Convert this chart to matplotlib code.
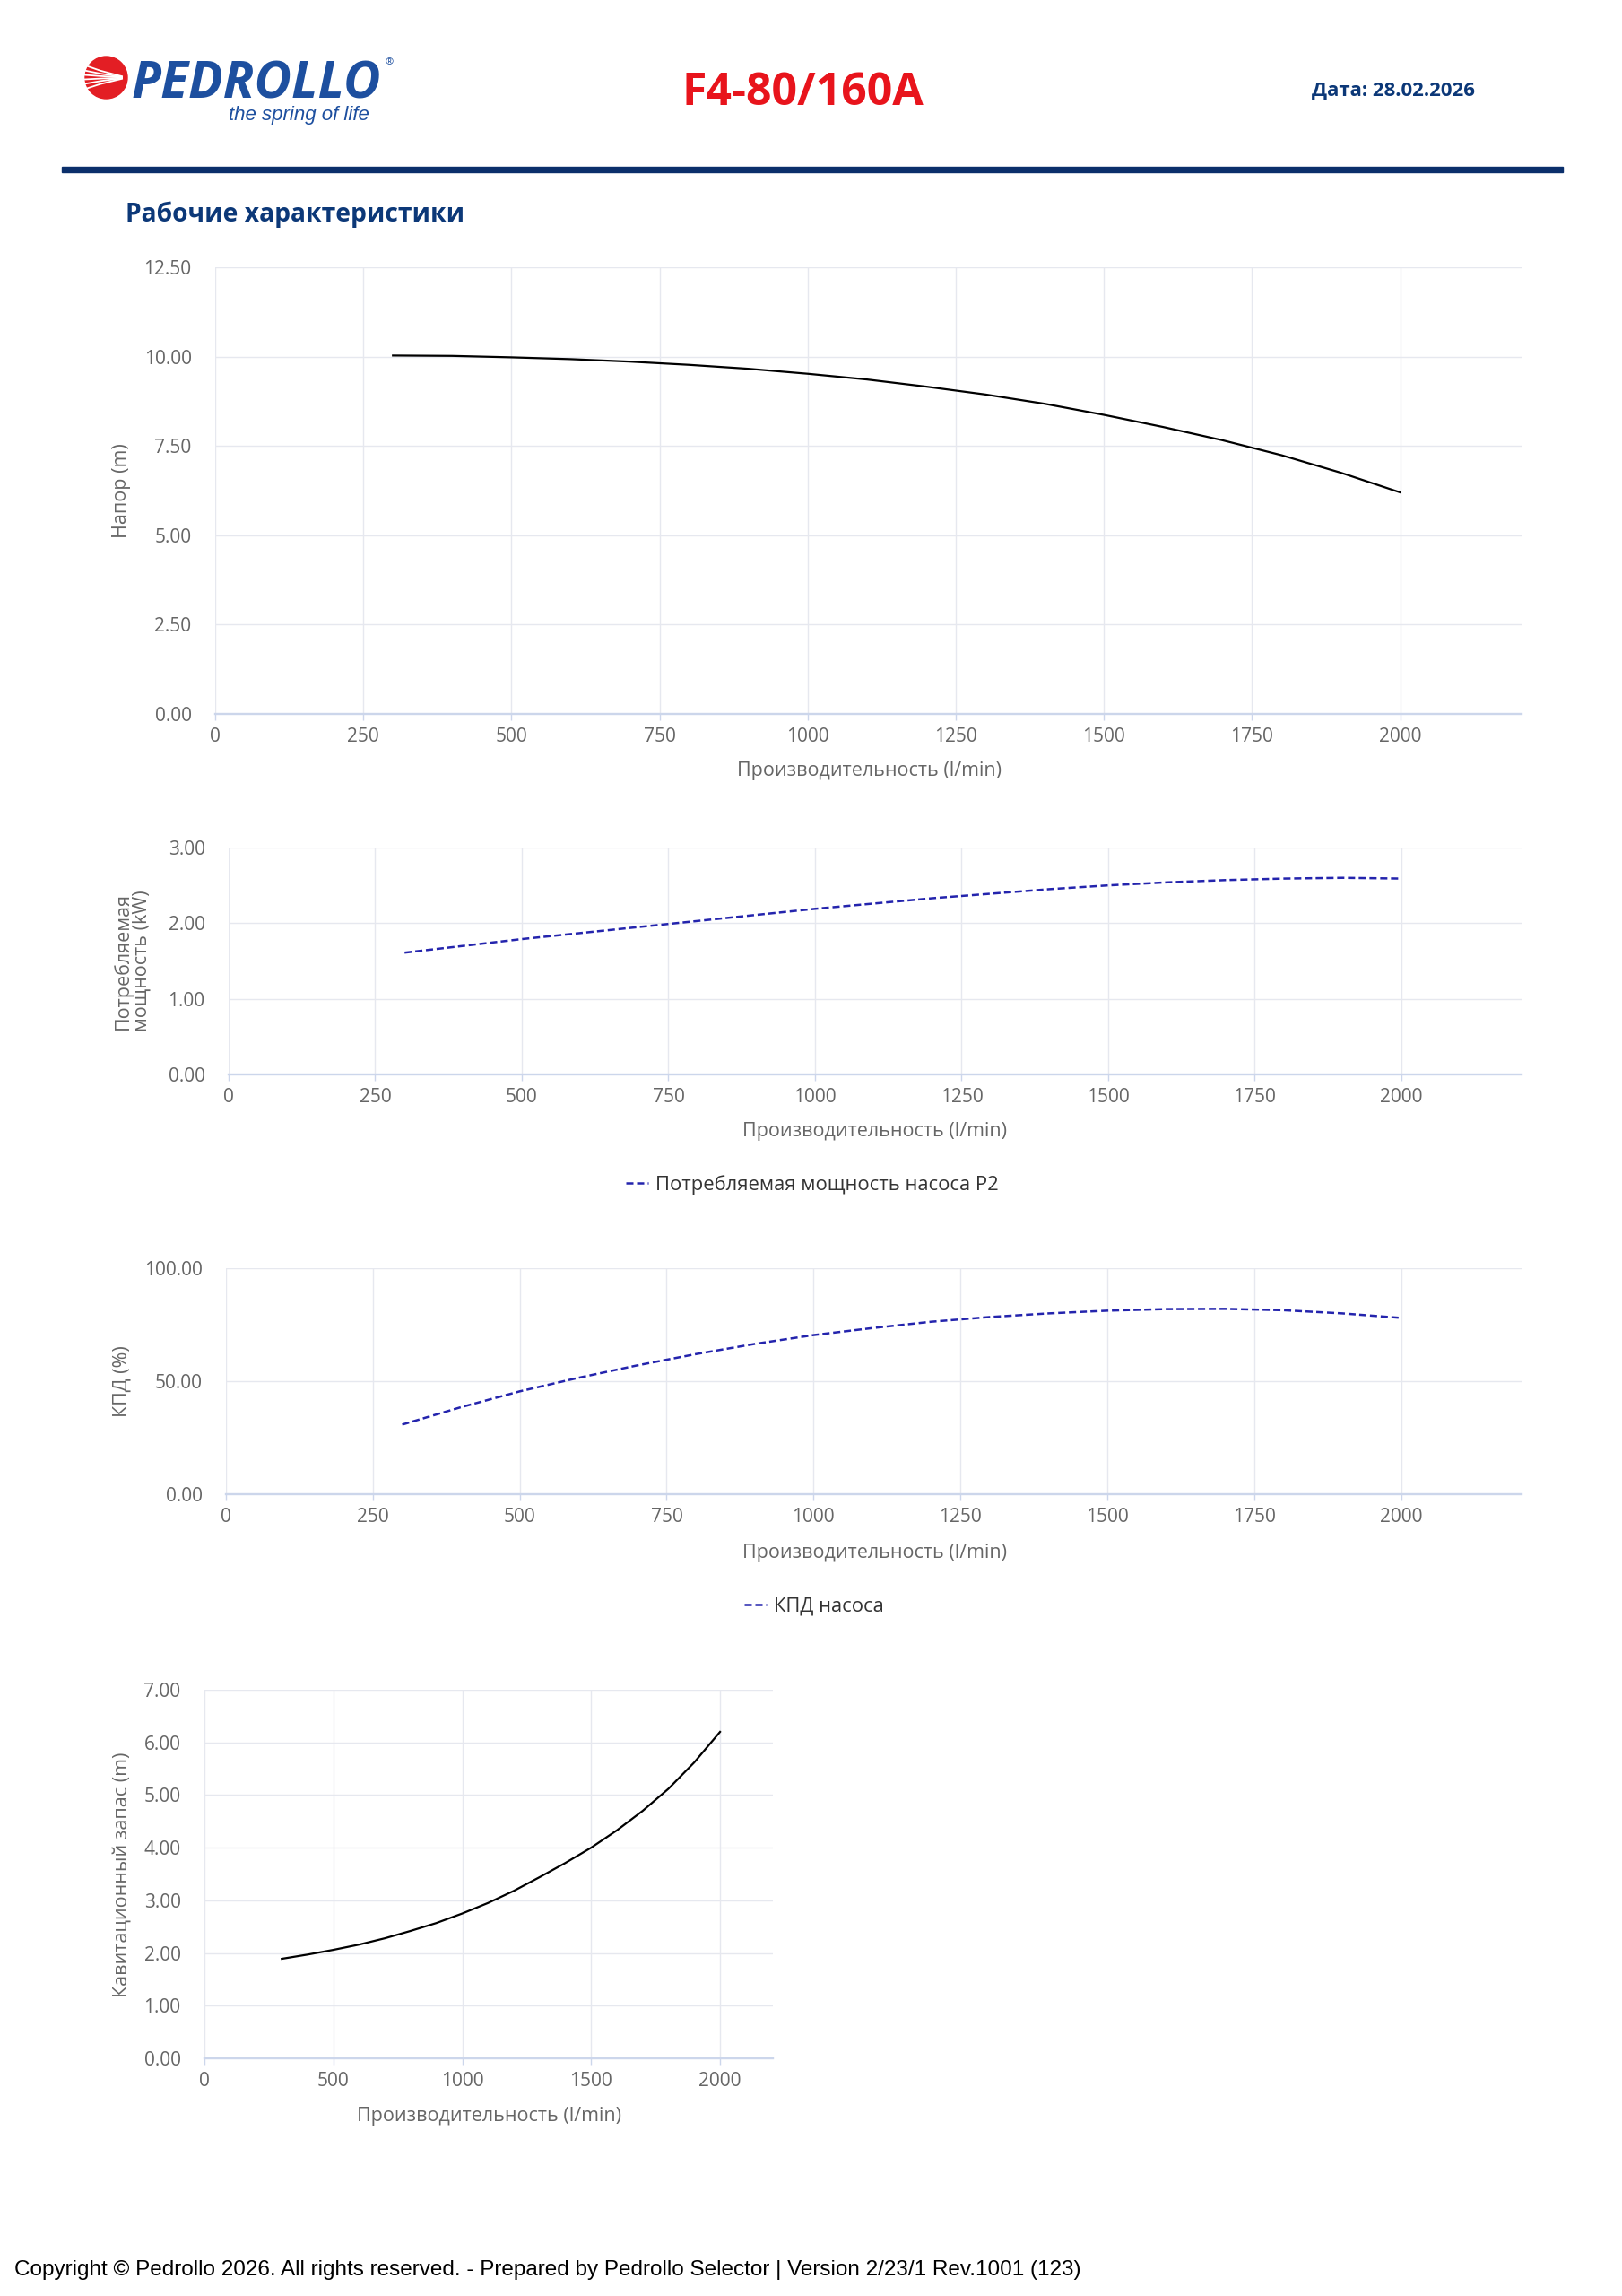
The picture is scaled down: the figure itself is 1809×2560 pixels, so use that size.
import matplotlib
matplotlib.use("Agg")
import matplotlib.pyplot as plt
from matplotlib.patches import Circle, Rectangle
from matplotlib.lines import Line2D

plt.rcParams['font.family'] = ['Open Sans', 'DejaVu Sans']

# pump curves
flow = [300, 400, 500, 600, 700, 800, 900, 1000, 1100, 1200,
        1300, 1400, 1500, 1600, 1700, 1800, 1900, 2000]
head = [10.03, 10.02, 9.98, 9.93, 9.86, 9.77, 9.66, 9.52, 9.36, 9.16,
        8.94, 8.68, 8.37, 8.03, 7.66, 7.24, 6.75, 6.20]
power = [1.61, 1.70, 1.79, 1.87, 1.95, 2.03, 2.11, 2.19, 2.26, 2.33,
         2.39, 2.45, 2.50, 2.54, 2.57, 2.59, 2.60, 2.59]
eff = [30.8, 38.5, 45.5, 51.5, 57.0, 62.0, 66.5, 70.4, 73.5, 76.3,
       78.4, 80.0, 81.2, 81.9, 82.0, 81.4, 80.0, 78.0]
npsh = [1.89, 1.97, 2.06, 2.16, 2.28, 2.42, 2.57, 2.75, 2.95, 3.18,
        3.44, 3.71, 4.00, 4.33, 4.70, 5.12, 5.62, 6.20]

xticks_wide = [0, 250, 500, 750, 1000, 1250, 1500, 1750, 2000]
xticks_narrow = [0, 500, 1000, 1500, 2000]
head_ticks = [0, 2.5, 5, 7.5, 10, 12.5]
power_ticks = [0, 1, 2, 3]
eff_ticks = [0, 50, 100]
npsh_ticks = [0, 1, 2, 3, 4, 5, 6, 7]

xlabel = "Производительность (l/min)"
W, H = 1809, 2560
NAVY = "#0c3878"
GRID = "#e6e8ef"
AXIS = "#ccd6eb"
TICK = "#666666"
DASH = "#2424ad"
LAB = 15.5

fig = plt.figure(figsize=(W / 100, H / 100), dpi=100)


def make_ax(left, right, top, bottom):
    return fig.add_axes([left / W, 1 - bottom / H, (right - left) / W, (bottom - top) / H])


def style(ax, xt, yt, ymax):
    ax.set_xlim(0, 2205)
    ax.set_ylim(0, ymax)
    ax.set_xticks(xt)
    ax.set_yticks(yt)
    ax.set_yticklabels(["%.2f" % v for v in yt])
    ax.grid(True, color=GRID, lw=1.0)
    ax.set_axisbelow(True)
    for s in ["top", "right", "left"]:
        ax.spines[s].set_visible(False)
    ax.spines["bottom"].set_color(AXIS)
    ax.spines["bottom"].set_linewidth(1.7)
    ax.tick_params(axis="x", length=5, width=1, color=AXIS, pad=6, labelsize=15, labelcolor=TICK)
    ax.tick_params(axis="y", length=0, pad=19, labelsize=15, labelcolor=TICK)


# chart 1 - head
ax1 = make_ax(240, 1697, 298, 796)
ax1.plot(flow, head, color="black", lw=1.6, solid_joinstyle="round")
style(ax1, xticks_wide, head_ticks, 12.5)
fig.text(970 / W, 1 - 860 / H, xlabel, ha="center", va="center", fontsize=LAB, color=TICK)
fig.text(136 / W, 1 - 547 / H, "Напор (m)", ha="center", va="center", rotation=90,
         fontsize=LAB, color=TICK)

# chart 2 - power
ax2 = make_ax(255, 1697, 945, 1198)
p_line, = ax2.plot(flow, power, color=DASH, lw=1.8, ls=(0, (3.2, 1.6)))
style(ax2, xticks_wide, power_ticks, 3)
fig.text(976 / W, 1 - 1262 / H, xlabel, ha="center", va="center", fontsize=LAB, color=TICK)
fig.text(147 / W, 1 - 1071 / H, "Потребляемая\nмощность (kW)", ha="center", va="center",
         rotation=90, fontsize=LAB, color=TICK, linespacing=1.0)
fig.legend([p_line], ["Потребляемая мощность насоса P2"], loc="center",
           bbox_to_anchor=(906 / W, 1 - 1321 / H), frameon=False, fontsize=15.8,
           handlelength=1.15, handletextpad=0.35, labelcolor="#333333")

# chart 3 - efficiency
ax3 = make_ax(252, 1697, 1414, 1666)
e_line, = ax3.plot(flow, eff, color=DASH, lw=1.8, ls=(0, (3.2, 1.6)))
style(ax3, xticks_wide, eff_ticks, 100)
fig.text(975 / W, 1 - 1731 / H, xlabel, ha="center", va="center", fontsize=LAB, color=TICK)
fig.text(136 / W, 1 - 1540 / H, "КПД (%)", ha="center", va="center", rotation=90,
         fontsize=LAB, color=TICK)
fig.legend([e_line], ["КПД насоса"], loc="center",
           bbox_to_anchor=(908 / W, 1 - 1791 / H), frameon=False, fontsize=15.8,
           handlelength=1.15, handletextpad=0.35, labelcolor="#333333")

# chart 4 - NPSH
ax4 = make_ax(228, 862, 1884, 2295)
ax4.plot(flow, npsh, color="black", lw=1.6, solid_joinstyle="round")
style(ax4, xticks_narrow, npsh_ticks, 7)
fig.text(545 / W, 1 - 2359 / H, xlabel, ha="center", va="center", fontsize=LAB, color=TICK)
fig.text(136 / W, 1 - 2090 / H, "Кавитационный запас (m)", ha="center", va="center",
         rotation=90, fontsize=LAB, color=TICK)

# header
fig.text(895 / W, 1 - 104 / H, "F4-80/160A", ha="center", va="center", fontsize=36,
         fontweight="bold", color="#e8141c")
fig.text(1463 / W, 1 - 101 / H, "Дата: 28.02.2026", ha="left", va="center", fontsize=16,
         fontweight="bold", color=NAVY)
fig.patches.append(Rectangle((69 / W, 1 - 192 / H), (1743 - 69) / W, 6 / H,
                             transform=fig.transFigure, color="#0b2f6b"))
fig.text(140 / W, 1 - 239 / H, "Рабочие характеристики", ha="left", va="center",
         fontsize=20.3, fontweight="bold", color=NAVY)

# logo
logo = fig.add_axes([0, 1 - 160 / H, 480 / W, 160 / H])
logo.set_xlim(0, 480)
logo.set_ylim(160, 0)
logo.axis("off")
logo.add_patch(Circle((118.5, 86.5), 23.5, color="#e31e24"))
for dy in [-14, -8, -3, 2, 7, 13]:
    logo.add_line(Line2D([94, 112, 136], [86.5 + dy, 86.5 + dy * 0.55, 86.5 + dy * 0.1],
                         color="white", lw=1.3))
logo.text(147, 109, "PEDROLLO", fontsize=41, fontweight="bold", fontstyle="italic",
          color="#1d4f9f", ha="left", va="baseline")
logo.text(429, 70, "®", fontsize=8, color="#1d4f9f", ha="left", va="center")
logo.text(412, 134, "the spring of life", fontsize=16, fontstyle="italic",
          family="Liberation Sans", color="#1d4f9f", ha="right", va="baseline")

# footer
fig.text(16 / W, 1 - 2531 / H,
         "Copyright © Pedrollo 2026. All rights reserved. - Prepared by Pedrollo Selector | "
         "Version 2/23/1 Rev.1001 (123)",
         ha="left", va="center", fontsize=17.5, family="Liberation Sans", color="black")

fig.savefig("out.png", dpi=100, facecolor="white")
